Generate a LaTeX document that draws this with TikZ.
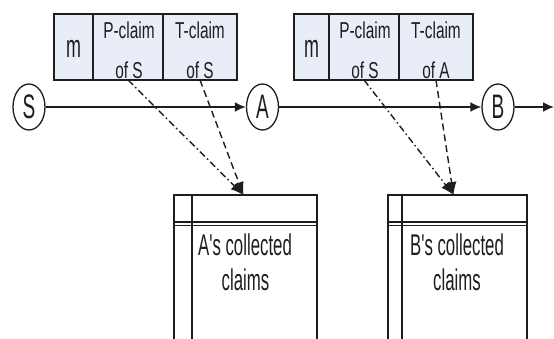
\documentclass[tikz,border=0pt]{standalone}
\usepackage{fontspec}
\setmainfont{Liberation Sans}
\newfontfamily\narrowtop[FakeStretch=0.67]{Liberation Sans}
\newfontfamily\narrowlow[FakeStretch=0.56]{Liberation Sans}
\usetikzlibrary{shapes.geometric,arrows.meta}
\definecolor{cellfill}{RGB}{232,237,247}
\definecolor{ink}{RGB}{30,30,30}
\begin{document}
\begin{tikzpicture}[x=1pt,y=-1pt,
  cell/.style={draw=ink, line width=1.8pt, fill=cellfill, minimum height=66pt, inner sep=0pt, outer sep=0pt},
  toptxt/.style={font=\narrowtop\fontsize{23}{23}\selectfont, anchor=base, inner sep=0pt, text=ink},
  mtxt/.style={font=\narrowlow\fontsize{32}{32}\selectfont, anchor=base, inner sep=0pt, text=ink},
  lowtxt/.style={font=\narrowlow\fontsize{30}{30}\selectfont, anchor=base, inner sep=0pt, text=ink},
  station/.style={ellipse, draw=ink, line width=1.3pt, minimum width=32pt, minimum height=46pt, inner sep=0pt, text=ink, font=\narrowlow\fontsize{34}{34}\selectfont},
  flow/.style={draw=ink, line width=1.9pt, -{Latex[length=11pt,width=10pt]}},
  lowbox/.style={draw=ink, line width=1.4pt, minimum height=170pt, inner sep=0pt, outer sep=0pt, anchor=north west},
  rule/.style={draw=ink, line width=1.4pt},
  claimdd/.style={draw=ink, line width=1.4pt, dash pattern=on 7pt off 3pt on 1.5pt off 3pt, -{Latex[length=13pt,width=10pt]}},
  claimd/.style={draw=ink, line width=1.4pt, dash pattern=on 7pt off 4pt, -{Latex[length=13pt,width=10pt]}}
]
\useasboundingbox (0,0) rectangle (554,338);
\clip (0,0) rectangle (554,338);

% stations
\node[station] (S) at (29,107) {S};
\node[station] (A) at (262.5,107) {A};
\node[station] (B) at (498,107) {B};
\coordinate (end) at (554,107);

% table 1
\node[cell, minimum width=39pt] (m1) at (73.5,47) {};
\node[cell, minimum width=70pt] (p1) at (128,47) {};
\node[cell, minimum width=74pt] (t1) at (200,47) {};
\node[mtxt] (m1t) at (73.5,57) {m};
\node[toptxt] (p1a) at (129,38) {P-claim};
\node[toptxt] (p1b) at (129,78) {of S};
\node[toptxt] (t1a) at (200,38) {T-claim};
\node[toptxt] (t1b) at (200,78) {of S};

% table 2
\node[cell, minimum width=35pt] (m2) at (311.5,47) {};
\node[cell, minimum width=70pt] (p2) at (364,47) {};
\node[cell, minimum width=74pt] (t2) at (436,47) {};
\node[mtxt] (m2t) at (311.5,57) {m};
\node[toptxt] (p2a) at (365,38) {P-claim};
\node[toptxt] (p2b) at (365,78) {of S};
\node[toptxt] (t2a) at (436,38) {T-claim};
\node[toptxt] (t2b) at (436,78) {of A};

% collected-claims boxes
\node[lowbox, minimum width=143pt] (boxA) at (174,195) {};
\draw[rule] (174,222) -- (317,222);
\draw[rule] (174,225.5) -- (317,225.5);
\draw[rule] (192,195) -- (192,345);
\node[lowtxt] (at1) at (245,255) {A's collected};
\node[lowtxt] (at2) at (245.5,290) {claims};

\node[lowbox, minimum width=139pt] (boxB) at (388,195) {};
\draw[rule] (388,222) -- (527,222);
\draw[rule] (388,225.5) -- (527,225.5);
\draw[rule] (402,195) -- (402,345);
\node[lowtxt] (bt1) at (457,255) {B's collected};
\node[lowtxt] (bt2) at (457,290) {claims};

% flow
\draw[flow] (S) -- (A);
\draw[flow] (A) -- (B);
\draw[flow] (B) -- (end);

% claim arrows
\draw[claimdd] (p1.south) -- ([xshift=-2pt]boxA.north);
\draw[claimd] (t1.south) -- ([xshift=-2pt]boxA.north);
\draw[claimdd] (p2.south) -- ([xshift=-4pt]boxB.north);
\draw[claimd] (t2.south) -- ([xshift=-4pt]boxB.north);
\end{tikzpicture}
\end{document}
